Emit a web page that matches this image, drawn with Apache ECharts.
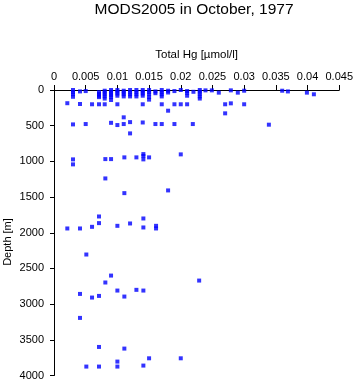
<!DOCTYPE html>
<html>
<head>
<meta charset="utf-8">
<script src="https://cdn.jsdelivr.net/npm/echarts@6/dist/echarts.min.js"></script>
<style>html,body{margin:0;padding:0;background:#fff;}#c{width:356px;height:384px;}</style>
</head>
<body>
<div id="c"></div>
<script>
var titleText = "MODS2005 in October, 1977";
var xName = "Total Hg [µmol/l]";
var yName = "Depth [m]";
var xTicks = [0, 0.005, 0.01, 0.015, 0.02, 0.025, 0.03, 0.035, 0.04, 0.045];
var yTicks = [0, 500, 1000, 1500, 2000, 2500, 3000, 3500, 4000];

var hgValues = [
  0.003,0.003,0.003,0.003, 0.0041,0.0041, 0.005, 0.0021, 0.006,
  0.0071,0.0071,0.0071,0.0071,0.0071,
  0.008,0.008,0.008,0.008,0.008,0.008,
  0.009,0.009,0.009,0.009,0.009,0.009,
  0.01,0.01,0.01,0.01,0.01,
  0.011,0.011,0.011,0.011,
  0.012,0.012,0.012,0.012,
  0.013,0.013,0.013,0.013,
  0.014,0.014,0.014,0.014,0.014,
  0.015,0.015,0.015,0.015,0.015,
  0.016,0.016,
  0.017,0.017,0.017,0.017,0.017,
  0.018,0.018,0.018,
  0.019,0.019,
  0.02,0.02,
  0.021,0.021,0.021,0.021,
  0.022,
  0.023,0.023,0.023,0.023,0.023,
  0.0239, 0.0249, 0.026, 0.027,0.027, 0.0279,0.0279, 0.029, 0.03,0.03,
  0.036, 0.0369, 0.0399, 0.041,
  0.003, 0.005, 0.009, 0.01, 0.011,0.011, 0.012,0.012, 0.014, 0.016, 0.017, 0.019, 0.0219, 0.0339,
  0.003,0.003, 0.0081, 0.009, 0.0111, 0.013, 0.0141,0.0141,0.0141, 0.015, 0.02,
  0.0081, 0.0111, 0.018,
  0.0021, 0.0041, 0.006, 0.0071,0.0071, 0.01, 0.012, 0.0141,0.0141, 0.0161,0.0161,
  0.0051, 0.009, 0.0081, 0.01, 0.0041, 0.006, 0.0071, 0.0111, 0.013, 0.0141, 0.0229,
  0.0041, 0.0071, 0.0111, 0.01, 0.015, 0.02, 0.0051, 0.0071, 0.01, 0.0141
];
var depthValues = [
  0,30,60,95, 20,196, 15, 185, 200,
  30,55,80,100,200,
  10,35,60,90,120,200,
  0,25,50,75,100,140,
  0,25,50,80,200,
  10,35,60,90,
  0,30,60,90,
  0,30,60,90,
  0,25,50,80,200,
  0,30,60,100,135,
  20,45,
  0,30,60,90,200,
  10,35,290,
  15,200,
  0,200,
  15,40,80,200,
  25,
  0,25,55,90,120,
  5, 5, 37, 200,327, 5,187, 37, 10,200,
  10, 20, 37, 60,
  482, 477, 460, 491, 383,477, 450,608, 455, 477, 477, 477, 477, 486,
  972,1042, 968, 968, 944, 944, 898,925,972, 944, 902,
  1239, 1445, 1407,
  1940, 1940, 1917, 1772,1865, 1903, 1870, 1800,1926, 1903,1940,
  2305, 2600, 2697, 2810, 2857, 2908, 2885, 2894, 2800, 2810, 2670,
  3193, 3600, 3623, 3805, 3759, 3759, 3875, 3875, 3875, 3861
];

var points = hgValues.map(function (v, i) { return [v, depthValues[i]]; });
var font = "'Liberation Sans', Arial, sans-serif";

var chart = echarts.init(document.getElementById('c'), null, {renderer: 'canvas'});
chart.setOption({
  animation: false,
  backgroundColor: '#ffffff',
  graphic: [
    {type: 'text', x: 194, y: 2, style: {text: titleText, fill: '#000', font: '15.5px ' + font, textAlign: 'center', textVerticalAlign: 'top'}},
    {type: 'text', x: 8, y: 242, rotation: Math.PI / 2, style: {text: yName, fill: '#000', font: '11px ' + font, textAlign: 'center', textVerticalAlign: 'middle'}}
  ],
  grid: {left: 54, top: 90, width: 285.5, height: 285.5, containLabel: false},
  xAxis: {
    type: 'value', position: 'top', min: 0, max: 0.045, interval: 0.005,
    name: xName, nameLocation: 'middle', nameGap: 29,
    nameTextStyle: {color: '#000', fontSize: 11.5, fontFamily: font},
    axisLine: {show: true, onZero: false, lineStyle: {color: '#000', width: 1}},
    axisTick: {show: true, length: 5, lineStyle: {color: '#000'}},
    axisLabel: {color: '#000', fontSize: 11, fontFamily: font, margin: 8,
      formatter: function (v) { return String(+v.toFixed(3)); }},
    splitLine: {show: false}
  },
  yAxis: {
    type: 'value', inverse: true, min: 0, max: 4000, interval: 500,
    axisLine: {show: true, onZero: false, lineStyle: {color: '#000', width: 1}},
    axisTick: {show: true, length: 4, lineStyle: {color: '#000'}},
    axisLabel: {color: '#000', fontSize: 11, fontFamily: font, margin: 10,
      formatter: function (v) { return String(v); }},
    splitLine: {show: false}
  },
  series: [{
    type: 'scatter', data: points, symbol: 'rect', symbolSize: 4,
    itemStyle: {color: '#0000ff'}
  }]
});
</script>
</body>
</html>
